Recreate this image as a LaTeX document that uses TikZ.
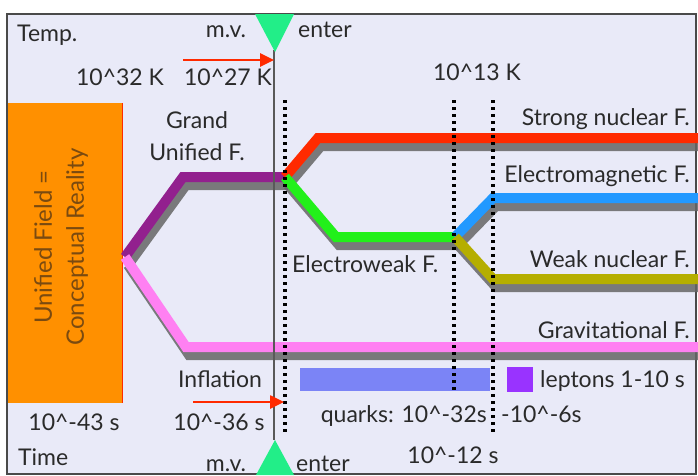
\documentclass[tikz,border=0pt]{standalone}
\usepackage{fontspec}
\setmainfont{Lato}
\usetikzlibrary{arrows.meta}
\definecolor{bgc}{HTML}{E9EAF8}
\definecolor{txt}{HTML}{2A2A2A}
\definecolor{frm}{HTML}{4A4A4A}
\definecolor{orng}{HTML}{FF9000}
\definecolor{brn}{HTML}{7A4A10}
\definecolor{tri}{HTML}{22EE88}
\definecolor{cpurple}{HTML}{92208E}
\definecolor{cpink}{HTML}{FF80F2}
\definecolor{cred}{HTML}{FF2A00}
\definecolor{cgreen}{HTML}{22F01A}
\definecolor{cblue}{HTML}{2299FF}
\definecolor{colive}{HTML}{B5AE00}
\definecolor{quark}{HTML}{7B84F6}
\definecolor{lept}{HTML}{9933FF}
\tikzset{
  lbl/.style={text=txt,font=\fontsize{23}{25}\selectfont,inner sep=0pt},
  force/.style={line width=10pt,line join=miter},
  shad/.style={line width=10pt,line join=miter,draw=gray!80!black,opacity=0.85},
  dots/.style={draw=black,line width=3.6pt,dash pattern=on 3.2pt off 3.8pt},
  redarrow/.style={draw=cred,line width=2.6pt,-{Triangle[length=14pt,width=13pt]}},
  tribox/.style={fill=tri,draw=none}
}
\begin{document}
\begin{tikzpicture}[x=1pt,y=-1pt]
\useasboundingbox (0,0) rectangle (698,475);
% frame
\fill[bgc] (7,14) rectangle (696,474);
\draw[frm,line width=2.6pt] (7,474) -- (7,14) -- (696,14) -- (696,474) -- cycle;

% orange block
\node[fill=orng,draw=none,minimum width=114pt,minimum height=300pt,inner sep=0pt,anchor=north west] (uf) at (8,103) {};
\draw[cred,line width=1.6pt] (uf.north east) -- (uf.south east);
\node[rotate=90,text=brn,font=\fontsize{24}{32}\selectfont,align=center,inner sep=0pt] (uft) at (61,247) {Unified Field =\\Conceptual Reality};

% coordinates
\coordinate (o) at (125,257);
\coordinate (gu1) at (183,177);
\coordinate (gu) at (285,177);
\coordinate (gr1) at (186,347);
\coordinate (gr) at (698,347);
\coordinate (sn1) at (318,138);
\coordinate (sn) at (698,138);
\coordinate (ew1) at (336,237);
\coordinate (ew) at (455,237);
\coordinate (em1) at (493,198);
\coordinate (em) at (698,198);
\coordinate (wk1) at (493,279);
\coordinate (wk) at (698,279);

% shadows
\begin{scope}[transform canvas={shift={(3,8)}}]
\draw[shad] (o) -- (gu1) -- (gu);
\draw[shad] (o) -- (gr1) -- (gr);
\draw[shad] (gu) -- (sn1) -- (sn);
\draw[shad] (gu) -- (ew1) -- (ew);
\draw[shad] (ew) -- (em1) -- (em);
\draw[shad] (ew) -- (wk1) -- (wk);
\end{scope}

% forces
\draw[force,cpurple] (o) -- (gu1) -- (gu);
\draw[force,cpink] (o) -- (gr1) -- (gr);
\draw[force,cred] (gu) -- (sn1) -- (sn);
\draw[force,cgreen] (gu) -- (ew1) -- (ew);
\draw[force,cblue] (ew) -- (em1) -- (em);
\draw[force,colive] (ew) -- (wk1) -- (wk);

% bars
\node[fill=quark,draw=none,minimum width=190pt,minimum height=23pt,inner sep=0pt,anchor=north west] (qb) at (300,368) {};
\node[fill=lept,draw=none,minimum width=26pt,minimum height=25pt,inner sep=0pt,anchor=north west] (lb) at (507,367) {};

% solid vertical line and triangles
\coordinate (mvt) at (274,50);
\coordinate (mvb) at (274,440);
\draw[gray!70!black,line width=2.6pt] (mvt) -- (mvb);
\fill[tribox] (255,14) -- (294,14) -- (275,52) -- cycle;
\fill[tribox] (256,475) -- (294,475) -- (275,440) -- cycle;

% dotted lines
\coordinate (d1t) at (285,100); \coordinate (d1b) at (285,432);
\coordinate (d2t) at (454,100); \coordinate (d2b) at (454,392);
\coordinate (d3t) at (493,100); \coordinate (d3b) at (493,434);
\draw[dots] (d1t) -- (d1b);
\draw[dots] (d2t) -- (d2b);
\draw[dots] (d3t) -- (d3b);

% red arrows
\coordinate (a1s) at (183,60); \coordinate (a1e) at (274,60);
\coordinate (a2s) at (193,402); \coordinate (a2e) at (284,402);
\draw[redarrow] (a1s) -- (a1e);
\draw[redarrow] (a2s) -- (a2e);

% labels
\node[lbl,anchor=base west] (temp) at (17,41) {Temp.};
\node[lbl,anchor=base] (mv1) at (226,37) {m.v.};
\node[lbl,anchor=base west] (en1) at (298,37) {enter};
\node[lbl,anchor=base] (k32) at (120,85) {10\textasciicircum 32 K};
\node[lbl,anchor=base] (k27) at (228,85) {10\textasciicircum 27 K};
\node[lbl,anchor=base] (k13) at (477,80) {10\textasciicircum 13 K};
\node[lbl,anchor=base] (grand) at (197,128) {Grand};
\node[lbl,anchor=base] (gu2) at (197,160) {Unified F.};
\node[lbl,anchor=base east] (snl) at (690,125) {Strong nuclear F.};
\node[lbl,anchor=base east] (eml) at (690,182) {Electromagnetic F.};
\node[lbl,anchor=base west] (ewl) at (292,272) {Electroweak F.};
\node[lbl,anchor=base east] (wkl) at (690,267) {Weak nuclear F.};
\node[lbl,anchor=base east] (grl) at (690,338) {Gravitational F.};
\node[lbl,anchor=base] (inf) at (220,387) {Inflation};
\node[lbl,anchor=base west] (lep) at (540,387) {leptons 1-10 s};
\node[lbl,anchor=base] (s43) at (74,430) {10\textasciicircum -43 s};
\node[lbl,anchor=base] (s36) at (219,430) {10\textasciicircum -36 s};
\node[lbl,anchor=base east] (qk) at (487,422) {quarks: 10\textasciicircum -32s};
\node[lbl,anchor=base west] (q6) at (501,422) {-10\textasciicircum -6s};
\node[lbl,anchor=base west] (time) at (18,465) {Time};
\node[lbl,anchor=base] (mv2) at (226,471) {m.v.};
\node[lbl,anchor=base west] (en2) at (296,471) {enter};
\node[lbl,anchor=base] (s12) at (453,463) {10\textasciicircum -12 s};
\end{tikzpicture}
\end{document}
